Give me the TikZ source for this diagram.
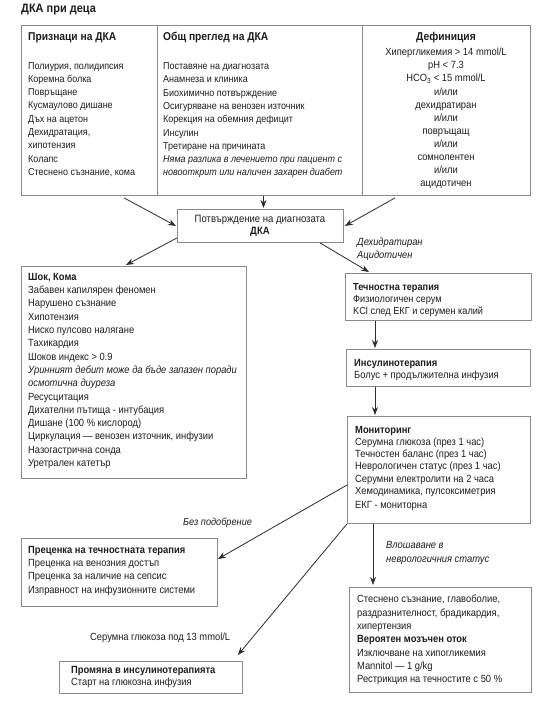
\documentclass[tikz,border=0pt]{standalone}
\usepackage{fontspec}
\setmainfont[FakeStretch=0.9]{Liberation Sans}
\usetikzlibrary{arrows.meta}
\definecolor{boxline}{HTML}{8A8A8A}
\definecolor{ink}{HTML}{1E1E1E}
\definecolor{arrowc}{HTML}{2E2E2E}
\tikzset{
  box/.style={draw=boxline, line width=0.9pt, fill=white, inner sep=0pt, anchor=north west},
  txt/.style={text=ink, inner sep=0pt, anchor=north west, align=left, font=\fontsize{10.4}{13.3}\selectfont},
  toptxt/.style={txt, font=\fontsize{10}{13.3}\selectfont},
  ctxt/.style={text=ink, inner sep=0pt, anchor=north, align=center, font=\fontsize{10.4}{13.1}\selectfont},
  lbl/.style={txt, font=\fontsize{10.4}{13.5}\selectfont},
  arr/.style={draw=arrowc, line width=0.8pt, -{Stealth[length=8pt,width=6pt]}},
  divider/.style={draw=boxline, line width=0.9pt},
}
\newcommand{\hd}[1]{{\fontsize{11.4}{13.3}\selectfont\bfseries #1}}
\begin{document}
\begin{tikzpicture}[x=1pt,y=-1pt]
\useasboundingbox[fill=white] (0,0) rectangle (553,707);

% title
\node[txt, font=\fontsize{12.2}{14}\selectfont\bfseries] (title) at (21,4) {ДКА при деца};

% top box
\node[box, minimum width=509pt, minimum height=170pt] (top) at (21,25) {};
\draw[divider] ([xshift=136pt]top.north west) -- ([xshift=136pt]top.south west);
\draw[divider] ([xshift=341pt]top.north west) -- ([xshift=341pt]top.south west);

\node[toptxt] (signs) at (28,32) {\hd{Признаци на ДКА}\\[15.7pt]
Полиурия, полидипсия\\
Коремна болка\\
Повръщане\\
Кусмаулово дишане\\
Дъх на ацетон\\
Дехидратация,\\
хипотензия\\
Колапс\\
Стеснено съзнание, кома};

\node[toptxt] (overview) at (163,32) {\hd{Общ преглед на ДКА}\\[15.7pt]
Поставяне на диагнозата\\
Анамнеза и клиника\\
Биохимично потвърждение\\
Осигуряване на венозен източник\\
Корекция на обемния дефицит\\
Инсулин\\
Третиране на причината\\
\itshape Няма разлика в лечението при пациент с\\
\itshape новооткрит или наличен захарен диабет};

\node[ctxt] (defin) at (446,32) {\hd{Дефиниция}\\[2.2pt]
Хипергликемия > 14 mmol/L\\
pH < 7.3\\
HCO\textsubscript{3} < 15 mmol/L\\
и/или\\
дехидратиран\\
и/или\\
повръщащ\\
и/или\\
сомнолентен\\
и/или\\
ацидотичен};

% confirmation box
\node[box, minimum width=166pt, minimum height=33pt] (conf) at (177,209) {};
\node[ctxt, font=\fontsize{10.6}{12}\selectfont] (conft) at (260,215) {Потвърждение на диагнозата\\ \textbf{ДКА}};

% shock box
\node[box, minimum width=225pt, minimum height=212pt] (shock) at (21,266) {};
\node[txt] (shockt) at (28,273) {\textbf{Шок, Кома}\\
Забавен капилярен феномен\\
Нарушено съзнание\\
Хипотензия\\
Ниско пулсово налягане\\
Тахикардия\\
Шоков индекс > 0.9\\
\itshape Уринният дебит може да бъде запазен поради\\
\itshape осмотична диуреза\\
Ресусцитация\\
Дихателни пътища - интубация\\
Дишане (100 \% кислород)\\
Циркулация — венозен източник, инфузии\\
Назогастрична сонда\\
Уретрален катетър};

% fluid therapy box
\node[box, minimum width=186pt, minimum height=47pt] (fluid) at (345,273) {};
\node[txt, font=\fontsize{10.2}{12}\selectfont] (fluidt) at (353,283) {\textbf{Течностна терапия}\\
Физиологичен серум\\
KCl след ЕКГ и серумен калий};

% insulin box
\node[box, minimum width=184pt, minimum height=37pt] (ins) at (346,349) {};
\node[txt, font=\fontsize{10.4}{12}\selectfont] (inst) at (354,359) {\textbf{Инсулинотерапия}\\
Болус + продължителна инфузия};

% monitoring box
\node[box, minimum width=183pt, minimum height=107pt] (mon) at (347,416) {};
\node[txt, font=\fontsize{10.4}{12.2}\selectfont] (mont) at (355,426) {\textbf{Мониторинг}\\
Серумна глюкоза (през 1 час)\\
Течностен баланс (през 1 час)\\
Неврологичен статус (през 1 час)\\
Серумни електролити на 2 часа\\
Хемодинамика, пулсоксиметрия\\[1.5pt]
ЕКГ - мониторна};

% fluid re-evaluation box
\node[box, minimum width=196pt, minimum height=68pt] (prec) at (21,538) {};
\node[txt] (prect) at (28,546) {\textbf{Преценка на течностната терапия}\\
Преценка на венозния достъп\\
Преценка за наличие на сепсис\\
Изправност на инфузионните системи};

% cerebral oedema box
\node[box, minimum width=182pt, minimum height=105pt] (neuro) at (349,587) {};
\node[txt] (neurot) at (357,595) {Стеснено съзнание, главоболие,\\
раздразнителност, брадикардия,\\
хипертензия\\
\textbf{Вероятен мозъчен оток}\\
Изключване на хипогликемия\\
Mannitol — 1 g/kg\\
Рестрикция на течностите с 50 \%};

% insulin change box
\node[box, minimum width=183pt, minimum height=32pt] (prom) at (59,661) {};
\node[txt, font=\fontsize{10.4}{12}\selectfont] (promt) at (71,666) {\textbf{Промяна в инсулинотерапията}\\
Старт на глюкозна инфузия};

% labels
\node[lbl, font=\fontsize{10.4}{13}\selectfont\itshape] (lbl1) at (357,238) {Дехидратиран\\ Ацидотичен};
\node[lbl, font=\fontsize{10.2}{13}\selectfont\itshape] (lbl2) at (183,518) {Без подобрение};
\node[lbl] (lbl3) at (90,633) {Серумна глюкоза под 13 mmol/L};
\node[lbl, font=\fontsize{10.4}{14}\selectfont\itshape] (lbl4) at (386,541) {Влошаване в\\ неврологичния статус};

% connectors
\draw[arr] ([xshift=103pt,yshift=-2pt]top.south west) -- ([xshift=-1pt]conf.west);
\draw[arr] ([xshift=3pt]conf.north |- top.south) -- ([xshift=3pt,yshift=1pt]conf.north);
\draw[arr] ([xshift=374pt,yshift=-2pt]top.south west) -- ([xshift=1pt]conf.east);
\draw[arr] ([yshift=5pt]conf.south west) -- ([xshift=105pt,yshift=1pt]shock.north west);
\draw[arr] ([xshift=143pt]conf.south west) -- ([xshift=24pt,yshift=1pt]fluid.north west);
\draw[arr] ([xshift=30pt]fluid.south west) -- ([xshift=29pt,yshift=1pt]ins.north west);
\draw[arr] ([xshift=29pt]ins.south west) -- ([xshift=28pt,yshift=1pt]mon.north west);
\draw[arr] ([yshift=-69pt]mon.north west) -- ([yshift=-21pt]prec.north east);
\draw[arr] (mon.south west) -- ([xshift=-5pt,yshift=6pt]prom.north east);
\draw[arr] ([xshift=26pt]mon.south west) -- ([xshift=24pt,yshift=2pt]neuro.north west);
\end{tikzpicture}
\end{document}
